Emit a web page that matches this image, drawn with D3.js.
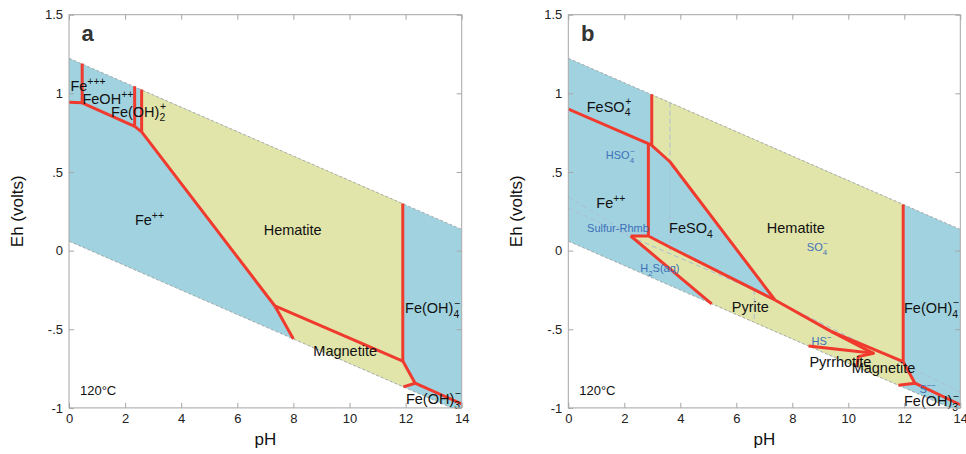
<!DOCTYPE html>
<html>
<head>
<meta charset="utf-8">
<script src="https://cdn.jsdelivr.net/npm/d3@7"></script>
<style>
  body { margin: 0; background: #fff; }
  svg { display: block; font-family: "Liberation Sans", Arial, sans-serif; }
</style>
</head>
<body>
<svg id="chart" width="966" height="454"></svg>
<script>
// ---- data (pH, Eh in volts) ----
const xTicks = [0, 2, 4, 6, 8, 10, 12, 14];
const yTicks = [-1, -0.5, 0, 0.5, 1, 1.5];

const waterTop = [[0, 1.223], [14, 0.135]];
const waterBottom = [[0, 0.06], [14, -1.028]];

// panel a
const hematiteA = [[2.59, 1.022], [2.59, 0.755], [7.34, -0.352], [11.9, -0.702], [11.9, 0.299]];
const magnetiteA = [[7.34, -0.352], [8.0, -0.562], [11.92, -0.866], [12.34, -0.843], [11.9, -0.702]];
const linesA = [
  [[0, 0.943], [0.47, 0.94]],
  [[0.47, 1.19], [0.47, 0.94]],
  [[0.47, 0.94], [2.34, 0.79]],
  [[2.34, 1.045], [2.34, 0.79]],
  [[2.34, 0.79], [2.59, 0.755]],
  [[2.59, 1.025], [2.59, 0.755]],
  [[2.59, 0.755], [7.34, -0.352]],
  [[7.34, -0.352], [8.0, -0.562]],
  [[7.34, -0.352], [11.9, -0.702]],
  [[11.9, 0.299], [11.9, -0.702]],
  [[11.9, -0.702], [12.34, -0.843]],
  [[12.34, -0.843], [11.92, -0.866]],
  [[12.34, -0.843], [14, -0.975]]
];
const labelsA = [
  { p: [0.05, 1.012], parts: [['Fe'], ['+++', 'sup']] },
  { p: [0.48, 0.932], parts: [['FeOH'], ['++', 'sup']] },
  { p: [1.5, 0.852], parts: [['Fe(OH)'], ['2', 'sub'], ['+', 'stack']] },
  { p: [2.35, 0.162], parts: [['Fe'], ['++', 'sup']] },
  { p: [6.94, 0.10], parts: [['Hematite']] },
  { p: [8.71, -0.67], parts: [['Magnetite']] },
  { p: [11.98, -0.398], parts: [['Fe(OH)'], ['4', 'sub'], ['\u2212', 'stack']] },
  { p: [12.01, -0.975], parts: [['Fe(OH)'], ['3', 'sub'], ['\u2212', 'stack']] }
];

// panel b
const hematiteB = [[2.98, 0.992], [2.98, 0.67], [3.63, 0.565], [7.38, -0.314], [9.4, -0.515], [11.96, -0.706], [11.96, 0.294]];
const pyriteB = [[2.23, 0.093], [2.86, 0.093], [3.65, 0.02], [7.38, -0.314], [9.4, -0.515], [10.9, -0.653], [8.58, -0.607], [5.12, -0.338]];
const pyrrhotiteB = [[8.58, -0.607], [10.9, -0.653], [10.36, -0.674], [10.3, -0.74]];
const magnetiteB = [[9.4, -0.515], [11.96, -0.706], [12.38, -0.843], [11.79, -0.856], [10.3, -0.74], [10.36, -0.674], [10.9, -0.653]];
const linesB = [
  [[0, 0.90], [2.96, 0.672]],
  [[2.98, 0.995], [2.98, 0.67]],
  [[2.86, 0.676], [2.86, 0.093]],
  [[2.96, 0.672], [3.63, 0.565], [7.38, -0.314]],
  [[2.23, 0.093], [2.86, 0.093], [3.65, 0.02], [7.38, -0.314]],
  [[2.23, 0.093], [5.12, -0.338]],
  [[7.38, -0.314], [9.4, -0.515]],
  [[9.4, -0.515], [11.96, -0.706]],
  [[9.4, -0.515], [10.9, -0.653]],
  [[8.58, -0.607], [10.9, -0.653], [10.36, -0.674], [10.3, -0.74]],
  [[11.96, 0.294], [11.96, -0.706]],
  [[11.96, -0.706], [12.38, -0.843]],
  [[12.38, -0.843], [11.79, -0.856]],
  [[12.38, -0.843], [14, -0.98]]
];
const sulfurB = [
  [[0, 0.343], [2.2, 0.10]],
  [[0, 0.27], [2.2, 0.09]],
  [[2.2, 0.09], [6.64, -0.25], [14, -0.90]],
  [[3.63, 0.941], [3.63, 0.0]],
  [[6.64, -0.25], [6.64, -0.456]]
];
const labelsB = [
  { p: [0.66, 0.883], parts: [['FeSO'], ['4', 'sub'], ['+', 'stack']] },
  { p: [1.34, 0.58], parts: [['HSO'], ['4', 'sub'], ['\u2212', 'stack']], s: true },
  { p: [1.0, 0.269], parts: [['Fe'], ['++', 'sup']] },
  { p: [0.67, 0.117], parts: [['Sulfur-Rhmb']], s: true },
  { p: [3.6, 0.11], parts: [['FeSO'], ['4', 'sub']] },
  { p: [7.09, 0.11], parts: [['Hematite']] },
  { p: [8.52, -0.003], parts: [['SO'], ['4', 'sub'], ['\u2212', 'stack']], s: true },
  { p: [2.57, -0.137], parts: [['H'], ['2', 'sub'], ['S(aq)']], s: true },
  { p: [5.84, -0.388], parts: [['Pyrite']] },
  { p: [8.69, -0.6], parts: [['HS'], ['\u2212', 'sup']], s: true },
  { p: [8.61, -0.738], parts: [['Pyrrhotite']] },
  { p: [10.12, -0.78], parts: [['Magnetite']] },
  { p: [11.99, -0.396], parts: [['Fe(OH)'], ['4', 'sub'], ['\u2212', 'stack']] },
  { p: [12.54, -0.907], parts: [['S'], ['\u2212\u2212', 'sup']], s: true },
  { p: [11.99, -0.99], parts: [['Fe(OH)'], ['3', 'sub'], ['\u2212', 'stack']] }
];

const panels = [
  { id: 'a', left: 69, right: 461.7, minerals: [hematiteA, magnetiteA], lines: linesA, sulfur: [], labels: labelsA },
  { id: 'b', left: 568.3, right: 960.3, minerals: [hematiteB, pyriteB, pyrrhotiteB, magnetiteB], lines: linesB, sulfur: sulfurB, labels: labelsB }
];

// ---- drawing ----
const svg = d3.select('#chart');
const plotTop = 14.7, plotBottom = 407.9;
const blue = '#a0d3df', yellow = '#e2e5aa', red = '#f03a2e', frame = '#a6a6a6';

function fmtY(d) {
  if (d === 0) return '0';
  return String(d).replace('0.', '.');
}

function chem(g, x, y, parts, size, color) {
  let cx = x, subX = x;
  parts.forEach(([t, k]) => {
    const fs = k ? size * 0.72 : size;
    let px = cx, py = y;
    if (k === 'sub') { py = y + size * 0.32; subX = cx; }
    if (k === 'sup') py = y - size * 0.45;
    if (k === 'stack') { px = subX + 0.5; py = y - size * 0.45; }
    const el = g.append('text')
      .attr('x', px).attr('y', py)
      .attr('font-size', fs)
      .attr('fill', color)
      .text(t);
    if (k !== 'stack') cx = px + el.node().getComputedTextLength();
  });
}

panels.forEach(pn => {
  const x = d3.scaleLinear().domain([0, 14]).range([pn.left, pn.right]);
  const y = d3.scaleLinear().domain([-1, 1.5]).range([plotBottom, plotTop]);
  const line = d3.line().x(d => x(d[0])).y(d => y(d[1]));
  const g = svg.append('g');

  g.append('clipPath').attr('id', 'clip-' + pn.id)
    .append('rect')
    .attr('x', x(0)).attr('y', y(1.5))
    .attr('width', x(14) - x(0)).attr('height', y(-1) - y(1.5));

  const plot = g.append('g').attr('clip-path', `url(#clip-${pn.id})`);

  // water stability field
  plot.append('path')
    .attr('d', line([waterTop[0], waterTop[1], waterBottom[1], waterBottom[0]]) + 'Z')
    .attr('fill', blue);

  plot.selectAll('path.mineral')
    .data(pn.minerals)
    .join('path')
    .attr('class', 'mineral')
    .attr('d', d => line(d) + 'Z')
    .attr('fill', yellow);

  plot.selectAll('path.water')
    .data([waterTop, waterBottom])
    .join('path')
    .attr('class', 'water')
    .attr('d', line)
    .attr('fill', 'none')
    .attr('stroke', '#9a9a9a')
    .attr('stroke-width', 0.8)
    .attr('stroke-dasharray', '3,2');

  plot.selectAll('path.sulfur')
    .data(pn.sulfur)
    .join('path')
    .attr('class', 'sulfur')
    .attr('d', line)
    .attr('fill', 'none')
    .attr('stroke', '#a9bdd6')
    .attr('stroke-width', 1)
    .attr('stroke-dasharray', '5,3');

  plot.selectAll('path.bound')
    .data(pn.lines)
    .join('path')
    .attr('class', 'bound')
    .attr('d', line)
    .attr('fill', 'none')
    .attr('stroke', red)
    .attr('stroke-width', 3)
    .attr('stroke-linejoin', 'round');

  // labels
  const lab = g.append('g');
  pn.labels.forEach(l => {
    if (l.s) chem(lab, x(l.p[0]), y(l.p[1]), l.parts, 11, '#3e6fb8');
    else chem(lab, x(l.p[0]), y(l.p[1]), l.parts, 14.5, '#111');
  });
  lab.append('text')
    .attr('x', x(0.39)).attr('y', y(-0.918))
    .attr('font-size', 13).attr('fill', '#111')
    .text('120\u00b0C');
  lab.append('text')
    .attr('x', x(0.45)).attr('y', y(1.335))
    .attr('font-size', 22).attr('font-weight', 'bold').attr('fill', '#333')
    .text(pn.id);

  // frame and axes
  g.append('rect')
    .attr('x', x(0)).attr('y', y(1.5))
    .attr('width', x(14) - x(0)).attr('height', y(-1) - y(1.5))
    .attr('fill', 'none').attr('stroke', frame).attr('stroke-width', 1);

  const axes = [
    [d3.axisBottom(x).tickValues(xTicks).tickFormat(d3.format('d')), `translate(0,${y(-1)})`],
    [d3.axisTop(x).tickValues(xTicks).tickFormat(''), `translate(0,${y(1.5)})`],
    [d3.axisLeft(y).tickValues(yTicks).tickFormat(fmtY), `translate(${x(0)},0)`],
    [d3.axisRight(y).tickValues(yTicks).tickFormat(''), `translate(${x(14)},0)`]
  ];
  axes.forEach(([ax, tr]) => {
    const a = g.append('g').attr('transform', tr)
      .call(ax.tickSizeInner(-5).tickSizeOuter(0).tickPadding(6));
    a.select('.domain').remove();
    a.selectAll('line').attr('stroke', frame);
    a.selectAll('text').attr('font-size', 13).attr('fill', '#222')
      .attr('font-family', '"Liberation Sans", Arial, sans-serif');
  });

  g.append('text')
    .attr('x', (x(0) + x(14)) / 2).attr('y', 445)
    .attr('text-anchor', 'middle')
    .attr('font-size', 17).attr('fill', '#111')
    .text('pH');
  g.append('text')
    .attr('transform', `translate(${x(0) - 46},${(y(-1) + y(1.5)) / 2}) rotate(-90)`)
    .attr('text-anchor', 'middle')
    .attr('font-size', 17).attr('fill', '#111')
    .text('Eh (volts)');
});
</script>
</body>
</html>
